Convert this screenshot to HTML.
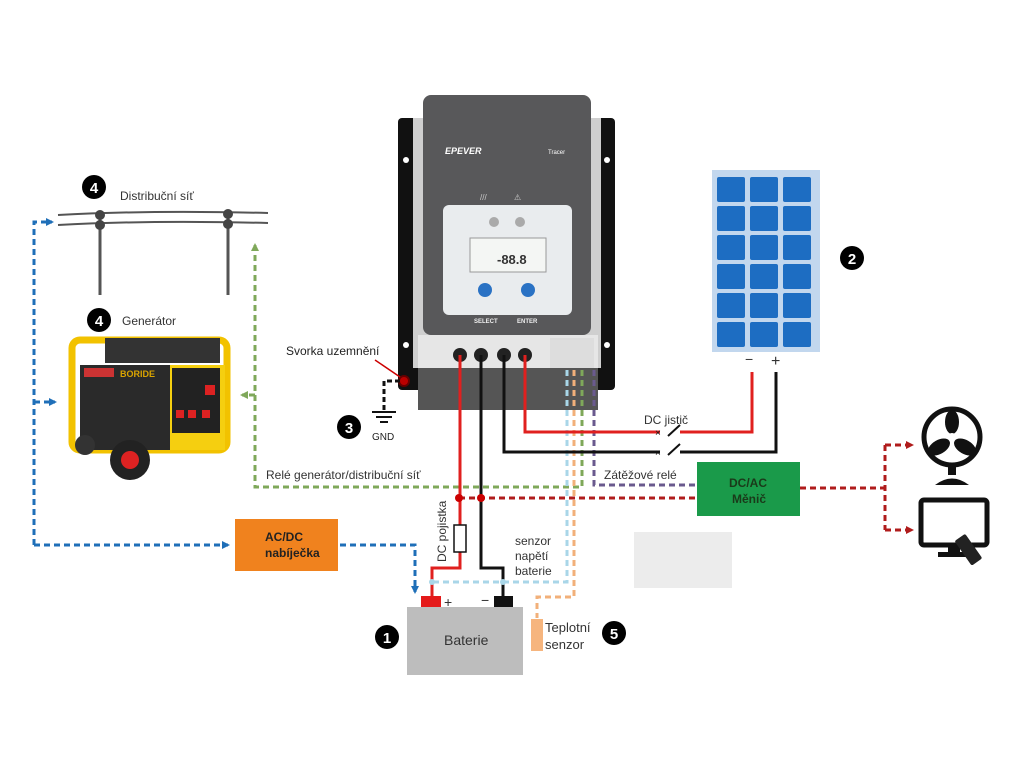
<!DOCTYPE html>
<html><head><meta charset="utf-8"><style>
html,body{margin:0;padding:0;background:#fff}
svg{display:block}
text{font-family:"Liberation Sans",sans-serif}
</style></head><body>
<svg width="1024" height="768" viewBox="0 0 1024 768" xmlns="http://www.w3.org/2000/svg">
<defs>
<marker id="ab" markerWidth="8" markerHeight="8" refX="6" refY="4" orient="auto" markerUnits="userSpaceOnUse"><path d="M0,0 L8,4 L0,8z" fill="#1f6fb8"/></marker>
<marker id="ag" markerWidth="8" markerHeight="8" refX="6" refY="4" orient="auto" markerUnits="userSpaceOnUse"><path d="M0,0 L8,4 L0,8z" fill="#7fa85a"/></marker>
<marker id="ar" markerWidth="8" markerHeight="8" refX="6" refY="4" orient="auto" markerUnits="userSpaceOnUse"><path d="M0,0 L8,4 L0,8z" fill="#b01c1c"/></marker>
</defs>

<!-- power line -->
<g stroke="#555" stroke-width="2" fill="none">
<path d="M58,215 Q150,210 268,213"/><path d="M58,225 Q150,220 268,223"/>
<line x1="100" y1="215" x2="100" y2="295" stroke-width="3"/>
<line x1="228" y1="215" x2="228" y2="295" stroke-width="3"/>
</g>
<g fill="#444"><circle cx="100" cy="215" r="5"/><circle cx="100" cy="225" r="5"/><circle cx="228" cy="214" r="5"/><circle cx="228" cy="224" r="5"/></g>
<text x="120" y="200" font-size="12" fill="#333">Distribuční síť</text>
<text x="122" y="325" font-size="12" fill="#333">Generátor</text>

<!-- generator -->
<g>
<rect x="72" y="340" width="155" height="110" rx="8" fill="none" stroke="#f2c200" stroke-width="7"/>
<rect x="105" y="338" width="115" height="25" fill="#333"/>
<rect x="80" y="365" width="90" height="85" fill="#2a2a2a"/>
<rect x="170" y="365" width="55" height="85" fill="#f5cf10"/>
<rect x="172" y="368" width="48" height="65" fill="#222"/>
<g fill="#d22"><rect x="176" y="410" width="8" height="8"/><rect x="188" y="410" width="8" height="8"/><rect x="202" y="410" width="8" height="8"/><rect x="205" y="385" width="10" height="10"/></g>
<rect x="84" y="368" width="30" height="9" fill="#c33"/>
<text x="120" y="377" font-size="9" fill="#d9a400" font-weight="bold">BORIDE</text>
<circle cx="130" cy="460" r="20" fill="#222"/><circle cx="130" cy="460" r="9" fill="#d22"/>
<circle cx="85" cy="445" r="10" fill="#333"/>
</g>

<!-- controller -->
<rect x="398" y="118" width="217" height="272" rx="4" fill="#111"/>
<circle cx="406" cy="160" r="3" fill="#fff"/><circle cx="607" cy="160" r="3" fill="#fff"/>
<circle cx="406" cy="345" r="3" fill="#fff"/><circle cx="607" cy="345" r="3" fill="#fff"/>
<rect x="413" y="118" width="188" height="250" fill="#cfcfcf"/>
<rect x="423" y="95" width="168" height="240" rx="8" fill="#58585a"/>
<text x="445" y="154" font-size="9" font-style="italic" font-weight="bold" fill="#fff">EPEVER</text>
<text x="548" y="154" font-size="6" fill="#fff">Tracer</text>
<text x="480" y="200" font-size="8" fill="#ccc">///</text><text x="514" y="200" font-size="8" fill="#ccc">⚠</text>
<rect x="443" y="205" width="129" height="110" rx="6" fill="#e9ecee"/>
<circle cx="494" cy="222" r="5" fill="#aaa"/><circle cx="520" cy="222" r="5" fill="#aaa"/>
<rect x="470" y="238" width="76" height="34" fill="#f4f6f4" stroke="#999"/>
<text x="497" y="264" font-size="13" font-weight="bold" fill="#333">-88.8</text>
<circle cx="485" cy="290" r="7" fill="#2a72c4"/><circle cx="528" cy="290" r="7" fill="#2a72c4"/>
<text x="474" y="323" font-size="6" fill="#eee" font-weight="bold">SELECT</text>
<text x="517" y="323" font-size="6" fill="#eee" font-weight="bold">ENTER</text>
<rect x="418" y="335" width="180" height="35" fill="#e6e6e6"/>
<rect x="418" y="368" width="180" height="42" fill="#555"/>
<rect x="550" y="338" width="44" height="30" fill="#ddd"/>
<g fill="#222"><circle cx="460" cy="355" r="7"/><circle cx="481" cy="355" r="7"/><circle cx="504" cy="355" r="7"/><circle cx="525" cy="355" r="7"/></g>
<circle cx="404" cy="381" r="5" fill="#b00" stroke="#600" stroke-width="2"/>

<!-- solar panel -->
<rect x="712" y="170" width="108" height="182" fill="#c2d7ee"/>
<g fill="#1d6dc2">
<rect x="717" y="177" width="28" height="25" rx="2"/><rect x="750" y="177" width="28" height="25" rx="2"/><rect x="783" y="177" width="28" height="25" rx="2"/>
<rect x="717" y="206" width="28" height="25" rx="2"/><rect x="750" y="206" width="28" height="25" rx="2"/><rect x="783" y="206" width="28" height="25" rx="2"/>
<rect x="717" y="235" width="28" height="25" rx="2"/><rect x="750" y="235" width="28" height="25" rx="2"/><rect x="783" y="235" width="28" height="25" rx="2"/>
<rect x="717" y="264" width="28" height="25" rx="2"/><rect x="750" y="264" width="28" height="25" rx="2"/><rect x="783" y="264" width="28" height="25" rx="2"/>
<rect x="717" y="293" width="28" height="25" rx="2"/><rect x="750" y="293" width="28" height="25" rx="2"/><rect x="783" y="293" width="28" height="25" rx="2"/>
<rect x="717" y="322" width="28" height="25" rx="2"/><rect x="750" y="322" width="28" height="25" rx="2"/><rect x="783" y="322" width="28" height="25" rx="2"/>
</g>
<text x="745" y="364" font-size="14" fill="#333">−</text><text x="771" y="366" font-size="16" fill="#333">+</text>

<!-- dashed signal lines -->
<g fill="none" stroke-width="3" stroke-dasharray="6,4">
<path d="M34,545 V222 H52" stroke="#1f6fb8" marker-end="url(#ab)"/>
<path d="M34,402 H55" stroke="#1f6fb8" marker-end="url(#ab)"/>
<path d="M34,545 H228" stroke="#1f6fb8" marker-end="url(#ab)"/>
<path d="M340,545 H415 V592" stroke="#1f6fb8" marker-end="url(#ab)"/>
<path d="M582,370 V487 H255 V245" stroke="#7fa85a" marker-end="url(#ag)"/>
<path d="M255,395 H242" stroke="#7fa85a" marker-end="url(#ag)"/>
<path d="M594,370 V485 H697" stroke="#6a5a8e"/>
<path d="M567,370 V582 H432" stroke="#a9d6e8"/>
<path d="M574,370 V597 H537 V618" stroke="#f2b07a"/>
<path d="M459,498 H697" stroke="#b01c1c"/>
<path d="M800,488 H885 M885,445 V530 M885,445 H910 M885,530 H910" stroke="#b01c1c"/>
</g>
<path d="M885,445 H912" stroke="#b01c1c" stroke-width="3" stroke-dasharray="6,4" marker-end="url(#ar)"/>
<path d="M885,530 H912" stroke="#b01c1c" stroke-width="3" stroke-dasharray="6,4" marker-end="url(#ar)"/>
<path d="M400,381 H384 V410" fill="none" stroke="#111" stroke-width="3" stroke-dasharray="5,3"/>

<!-- wires -->
<g fill="none" stroke-width="3">
<path d="M460,355 V568 H432 V598" stroke="#e0201f"/>
<path d="M481,355 V568 H503 V598" stroke="#111"/>
<path d="M525,355 V432 H660 M680,432 H752 V372" stroke="#e0201f"/>
<path d="M504,355 V452 H660 M680,452 H776 V372" stroke="#111"/>
<path d="M668,436 L680,425 M668,455 L680,444" stroke="#111" stroke-width="2"/>
</g>
<text x="655" y="436" font-size="10" fill="#111">×</text><text x="655" y="456" font-size="10" fill="#111">×</text>
<circle cx="459" cy="498" r="4" fill="#c00"/><circle cx="481" cy="498" r="4" fill="#c00"/>
<circle cx="432" cy="582" r="3" fill="#a9d6e8"/><circle cx="503" cy="582" r="3" fill="#a9d6e8"/>
<rect x="454" y="525" width="12" height="27" fill="#fff" stroke="#111" stroke-width="1.5"/>

<!-- GND -->
<g stroke="#111" stroke-width="2"><line x1="372" y1="412" x2="396" y2="412"/><line x1="376" y1="417" x2="392" y2="417"/><line x1="380" y1="422" x2="388" y2="422"/></g>
<text x="372" y="440" font-size="10" fill="#222">GND</text>
<text x="286" y="355" font-size="12" fill="#222">Svorka uzemnění</text>
<line x1="375" y1="360" x2="400" y2="377" stroke="#c00" stroke-width="1.5"/>

<!-- labels -->
<text x="266" y="479" font-size="12" fill="#333">Relé generátor/distribuční síť</text>
<text x="604" y="479" font-size="12" fill="#333">Zátěžové relé</text>
<text x="644" y="424" font-size="12" fill="#333">DC jistič</text>
<text x="446" y="562" font-size="12" fill="#333" transform="rotate(-90 446 562)">DC pojistka</text>
<text x="515" y="545" font-size="12" fill="#333">senzor</text>
<text x="515" y="560" font-size="12" fill="#333">napětí</text>
<text x="515" y="575" font-size="12" fill="#333">baterie</text>
<text x="545" y="632" font-size="13" fill="#333">Teplotní</text>
<text x="545" y="649" font-size="13" fill="#333">senzor</text>

<!-- boxes -->
<rect x="235" y="519" width="103" height="52" fill="#f0821e"/>
<text x="265" y="541" font-size="12" font-weight="bold" fill="#222">AC/DC</text>
<text x="265" y="557" font-size="12" font-weight="bold" fill="#222">nabíječka</text>
<rect x="697" y="462" width="103" height="54" fill="#1a9a4a"/>
<text x="729" y="487" font-size="12" font-weight="bold" fill="#1a3a1a">DC/AC</text>
<text x="732" y="503" font-size="12" font-weight="bold" fill="#1a3a1a">Měnič</text>
<rect x="634" y="532" width="98" height="56" fill="#ececec"/>

<!-- battery -->
<rect x="407" y="607" width="116" height="68" fill="#bdbdbd"/>
<rect x="421" y="596" width="20" height="11" fill="#e41a1a"/>
<rect x="494" y="596" width="19" height="11" fill="#111"/>
<text x="444" y="607" font-size="14" fill="#333">+</text><text x="481" y="605" font-size="14" fill="#333">−</text>
<text x="444" y="645" font-size="14" fill="#333">Baterie</text>
<rect x="531" y="619" width="12" height="32" fill="#f6b57e"/>

<!-- number circles -->
<g font-size="15" font-weight="bold" fill="#fff" text-anchor="middle">
<circle cx="94" cy="187" r="12" fill="#000"/><text x="94" y="193">4</text>
<circle cx="99" cy="320" r="12" fill="#000"/><text x="99" y="326">4</text>
<circle cx="349" cy="427" r="12" fill="#000"/><text x="349" y="433">3</text>
<circle cx="387" cy="637" r="12" fill="#000"/><text x="387" y="643">1</text>
<circle cx="852" cy="258" r="12" fill="#000"/><text x="852" y="264">2</text>
<circle cx="614" cy="633" r="12" fill="#000"/><text x="614" y="639">5</text>
</g>

<!-- fan -->
<circle cx="952" cy="437" r="28" fill="none" stroke="#111" stroke-width="5"/>
<g fill="#111"><ellipse cx="952" cy="422" rx="7" ry="12"/><ellipse cx="939" cy="447" rx="12" ry="7" transform="rotate(-30 939 447)"/><ellipse cx="965" cy="447" rx="12" ry="7" transform="rotate(30 965 447)"/><circle cx="952" cy="437" r="4" fill="#fff"/></g>
<rect x="948" y="465" width="8" height="10" fill="#111"/>
<path d="M935,485 Q952,472 969,485 Z" fill="#111"/>
<!-- TV -->
<rect x="921" y="500" width="66" height="45" rx="3" fill="#fff" stroke="#111" stroke-width="5"/>
<rect x="948" y="546" width="12" height="6" fill="#111"/><rect x="938" y="552" width="32" height="5" fill="#111"/>
<rect x="962" y="535" width="13" height="30" rx="2" fill="#222" transform="rotate(-35 968 550)"/>
</svg>
</body></html>
